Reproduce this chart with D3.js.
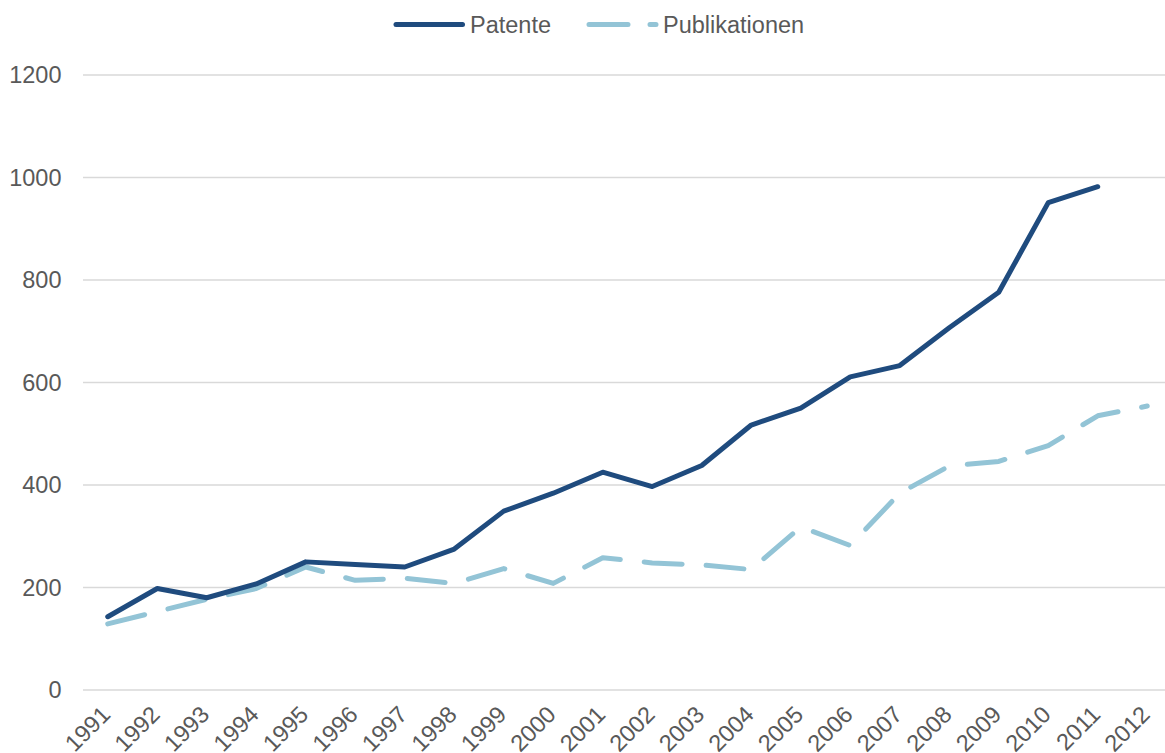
<!DOCTYPE html>
<html>
<head>
<meta charset="utf-8">
<script src="https://cdn.jsdelivr.net/npm/d3@7"></script>
<style>
  body { margin: 0; background: #fff; }
  text { font-family: "Liberation Sans", Arial, sans-serif; fill: #595959; }
</style>
</head>
<body>
<svg id="chart" width="1165" height="753"></svg>
<script>
// data
const years = ["1991","1992","1993","1994","1995","1996","1997","1998","1999","2000","2001",
               "2002","2003","2004","2005","2006","2007","2008","2009","2010","2011","2012"];
const patente = [143, 198, 180, 207, 250, 245, 240, 275, 349, 384, 425,
                 397, 438, 517, 550, 611, 633, 707, 776, 951, 982, null];
const publikationen = [129, 153, 177, 198, 240, 214, 218, 208, 237, 208, 258,
                       248, 244, 235, 318, 282, 384, 437, 446, 477, 535, 554];
const yTicks = [0, 200, 400, 600, 800, 1000, 1200];

const svg = d3.select("#chart");
const plotLeft = 83, plotRight = 1172, plotTop = 75, plotBottom = 690;
const fontSize = "23.5px";

const x = d3.scaleBand().domain(years).range([plotLeft, plotRight]);
const y = d3.scaleLinear().domain([0, 1200]).range([plotBottom, plotTop]);
const cx = d => x(d) + x.bandwidth() / 2;

// gridlines
svg.append("g").selectAll("line")
  .data(yTicks)
  .enter().append("line")
  .attr("x1", plotLeft).attr("x2", 1165)
  .attr("y1", d => y(d)).attr("y2", d => y(d))
  .attr("stroke", "#d9d9d9").attr("stroke-width", 1.5);

// y labels
svg.append("g").selectAll("text")
  .data(yTicks)
  .enter().append("text")
  .attr("x", 61.5).attr("y", d => y(d))
  .attr("dy", "0.35em")
  .attr("text-anchor", "end")
  .style("font-size", fontSize)
  .text(d => d);

// x labels, rotated
svg.append("g").selectAll("text")
  .data(years)
  .enter().append("text")
  .attr("transform", d => "translate(" + (cx(d) + 4) + ",716) rotate(-45)")
  .attr("text-anchor", "end")
  .style("font-size", fontSize)
  .text(d => d);

const line = d3.line()
  .defined(d => d.v != null)
  .x(d => cx(d.year))
  .y(d => y(d.v));

svg.append("path")
  .datum(years.map((yr, i) => ({ year: yr, v: publikationen[i] })))
  .attr("d", line)
  .attr("fill", "none")
  .attr("stroke", "#93c4d6")
  .attr("stroke-width", 5)
  .attr("stroke-linecap", "round")
  .attr("stroke-linejoin", "round")
  .attr("stroke-dasharray", "38,24");

svg.append("path")
  .datum(years.map((yr, i) => ({ year: yr, v: patente[i] })))
  .attr("d", line)
  .attr("fill", "none")
  .attr("stroke", "#1f4b7e")
  .attr("stroke-width", 5)
  .attr("stroke-linecap", "round")
  .attr("stroke-linejoin", "round");

// legend
const lg = svg.append("g");
lg.append("line")
  .attr("x1", 396).attr("x2", 462.5).attr("y1", 24.5).attr("y2", 24.5)
  .attr("stroke", "#1f4b7e").attr("stroke-width", 5).attr("stroke-linecap", "round");
lg.append("text").attr("x", 470).attr("y", 24.5).attr("dy", "0.35em")
  .style("font-size", fontSize).text("Patente");
lg.append("line")
  .attr("x1", 589).attr("x2", 656).attr("y1", 24.5).attr("y2", 24.5)
  .attr("stroke", "#93c4d6").attr("stroke-width", 5).attr("stroke-linecap", "round")
  .attr("stroke-dasharray", "39,22");
lg.append("text").attr("x", 663).attr("y", 24.5).attr("dy", "0.35em")
  .style("font-size", fontSize).text("Publikationen");
</script>
</body>
</html>
